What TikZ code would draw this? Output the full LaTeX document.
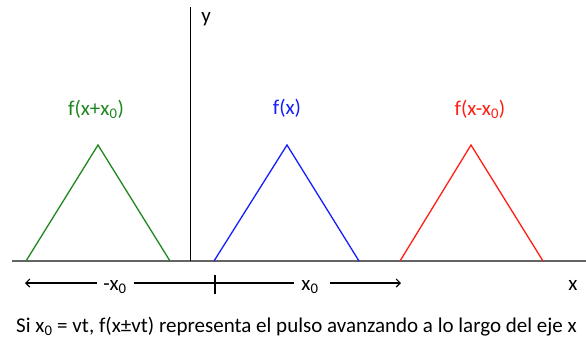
\documentclass[tikz,border=0pt]{standalone}
\usepackage{fontspec}
\setmainfont{Carlito}
\usetikzlibrary{arrows.meta}
\definecolor{pgreen}{RGB}{30,135,30}
\definecolor{pblue}{RGB}{20,30,255}
\definecolor{pred}{RGB}{255,30,20}
\definecolor{axgray}{RGB}{100,100,100}
\begin{document}
\begin{tikzpicture}[x=1pt,y=-1pt,
  lbl/.style={font=\fontsize{21}{24}\selectfont, inner sep=0pt},
  pulse/.style={line width=1.3pt, line join=miter},
  arr/.style={line width=1.1pt, -{Straight Barb[length=4pt,width=8pt]}},
  plain/.style={line width=1.1pt}]
\useasboundingbox (0,0) rectangle (586,341);
% axes
\coordinate (xl) at (12,261);
\coordinate (xr) at (586,261);
\coordinate (yb) at (190,261);
\coordinate (yt) at (190,7);
\draw[axgray, line width=1.3pt] (xl) -- (xr);
\draw[black, line width=1pt] (yb) -- (yt);
\node[lbl, anchor=center] (ylab) at (206,19) {y};
\node[lbl, anchor=center] (xlab) at (573,285) {x};
% pulses
\coordinate (g1) at (26,261); \coordinate (g2) at (98,145); \coordinate (g3) at (170,261);
\coordinate (b1) at (214,261); \coordinate (b2) at (287,145); \coordinate (b3) at (359,261);
\coordinate (r1) at (400,261); \coordinate (r2) at (471,145); \coordinate (r3) at (543,261);
\draw[pulse, pgreen] (g1) -- (g2) -- (g3);
\draw[pulse, pblue] (b1) -- (b2) -- (b3);
\draw[pulse, pred] (r1) -- (r2) -- (r3);
% labels
\node[lbl, text=pgreen] (gl) at (96,109) {f(x+x\textsubscript{0})};
\node[lbl, text=pblue] (bl) at (287,108) {f(x)};
\node[lbl, text=pred] (rl) at (480,109) {f(x-x\textsubscript{0})};
% displacement arrows
\node[lbl, anchor=base] (mx) at (115,290) {-x\textsubscript{0}};
\node[lbl, anchor=base] (px) at (310,290) {x\textsubscript{0}};
\coordinate (lt) at (25,283);
\coordinate (tk) at (215,283);
\coordinate (tkt) at (215,275);
\coordinate (tkb) at (215,294);
\coordinate (rt) at (401,283);
\draw[arr] (mx.west |- lt) ++(-6,0) -- (lt);
\draw[plain] ([xshift=7pt]mx.east |- tk) -- (tk) -- ([xshift=-7pt]px.west |- tk);
\draw[line width=1.4pt] (tkt) -- (tkb);
\draw[arr] ([xshift=11pt]px.east |- rt) -- (rt);
% caption
\node[lbl, anchor=base west] (cap) at (16,332) {Si x\textsubscript{0} = vt, f(x±vt) representa el pulso avanzando a lo largo del eje x};
\end{tikzpicture}
\end{document}
